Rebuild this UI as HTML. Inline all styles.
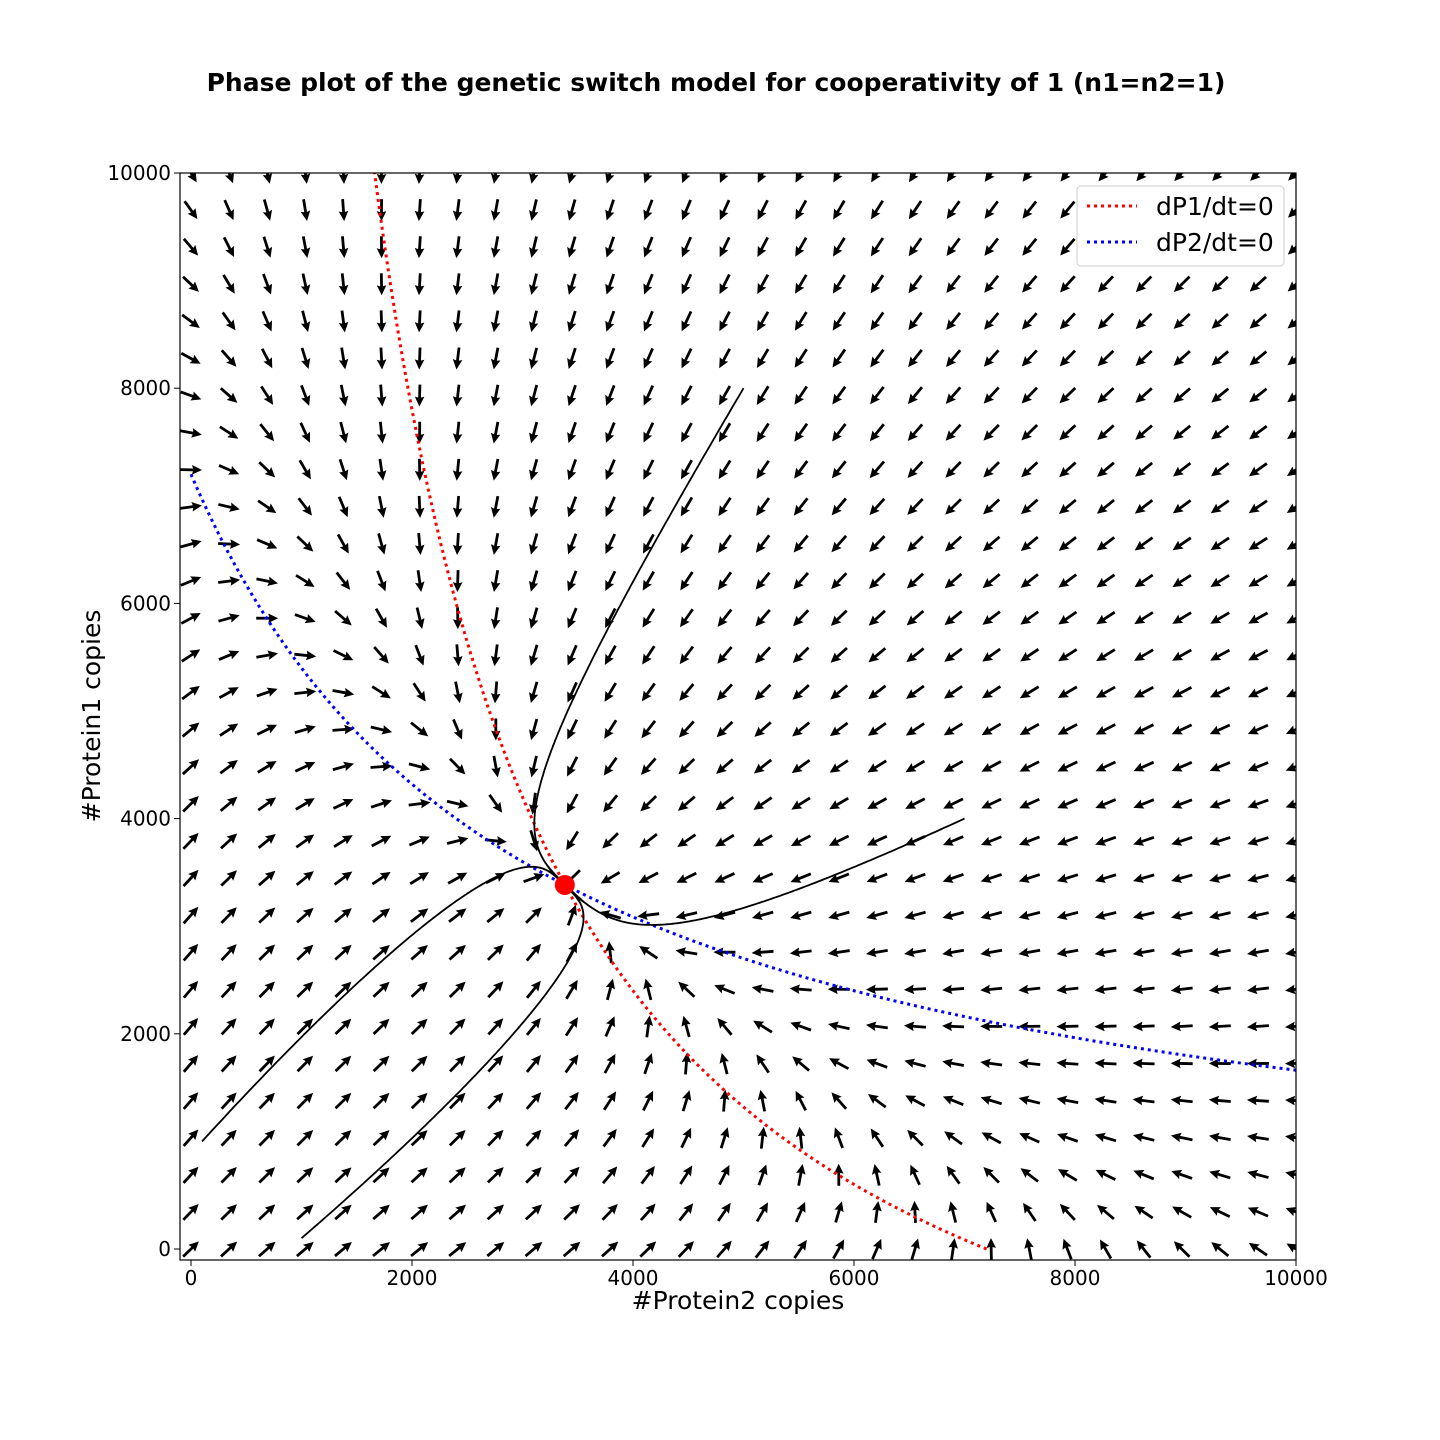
<!DOCTYPE html>
<html><head><meta charset="utf-8"><style>
body{margin:0;background:#fff}
svg{display:block;font-family:"DejaVu Sans","Liberation Sans",sans-serif}
</style></head><body>
<svg id="chart" width="1440" height="1440" viewBox="0 0 1440 1440">
<text x="716" y="91" text-anchor="middle" font-size="25" font-weight="bold">Phase plot of the genetic switch model for cooperativity of 1 (n1=n2=1)</text>
<defs><clipPath id="clip"><rect x="180" y="173" width="1116" height="1087"/></clipPath></defs>
<g id="arrows" clip-path="url(#clip)"></g>
<g id="lines" clip-path="url(#clip)"></g>
<rect x="180" y="173" width="1116" height="1087" fill="none" stroke="#000" stroke-width="1.2"/>
<g id="ticks"></g>
<text x="738" y="1309" text-anchor="middle" font-size="25">#Protein2 copies</text>
<text transform="translate(100,716) rotate(-90)" text-anchor="middle" font-size="25">#Protein1 copies</text>
<g>
<rect x="1077" y="186" width="207" height="80" rx="4" fill="#fff" stroke="#ccc" stroke-width="1"/>
<line x1="1087" y1="206" x2="1137" y2="206" stroke="red" stroke-width="3" stroke-dasharray="3,4"/>
<text x="1156" y="215" font-size="25">dP1/dt=0</text>
<line x1="1087" y1="242" x2="1137" y2="242" stroke="blue" stroke-width="3" stroke-dasharray="3,4"/>
<text x="1156" y="251" font-size="25">dP2/dt=0</text>
</g>
</svg>
<script>
const alpha = 7200;
const K = 3000;
const xTicks = [0,2000,4000,6000,8000,10000];
const yTicks = [0,2000,4000,6000,8000,10000];
const trajStarts = [[5000,8000],[7000,4000],[100,1000],[1000,100]];
const fixedPoint = [3383,3383];
const gridN = 30;

const NS="http://www.w3.org/2000/svg";
const sx = v => 191 + v*0.1105;
const sy = v => 1249 - v*0.1076;
function mk(tag, attrs, parent){const e=document.createElementNS(NS,tag);for(const k in attrs)e.setAttribute(k,attrs[k]);parent.appendChild(e);return e;}
const f1=(p1,p2)=>alpha/(1+p2/K)-p1; // dP1/dt
const f2=(p1,p2)=>alpha/(1+p1/K)-p2; // dP2/dt

const ag=document.getElementById('arrows');
for(let i=0;i<gridN;i++)for(let j=0;j<gridN;j++){
  const p2=i*10000/(gridN-1), p1=j*10000/(gridN-1);
  let u=f2(p1,p2), v=f1(p1,p2);
  const ang=Math.atan2(-v*0.1076,u*0.1105)*180/Math.PI;
  const a=mk('polygon',{points:'-11,-1.4 2,-1.4 1,-4.8 11,0 1,4.8 2,1.4 -11,1.4',fill:'#000',transform:`translate(${sx(p2)},${sy(p1)}) rotate(${ang})`},ag);
  
  
}
const lg=document.getElementById('lines');
let r='',b='';
for(let k=0;k<=200;k++){const p1=k*50; r+=(k?'L':'M')+sx(alpha/(1+p1/K))+','+sy(p1);}
for(let k=0;k<=200;k++){const p2=k*50; b+=(k?'L':'M')+sx(p2)+','+sy(alpha/(1+p2/K));}
const rn=mk('path',{d:r,fill:'none',stroke:'red','stroke-width':3,'stroke-dasharray':'3,4'},lg);


const bn=mk('path',{d:b,fill:'none',stroke:'blue','stroke-width':3,'stroke-dasharray':'3,4'},lg);


trajStarts.forEach(s=>{
  let p2=s[0],p1=s[1],d='M'+sx(p2)+','+sy(p1);const h=0.01;
  for(let t=0;t<1500;t++){
    const k1a=f1(p1,p2),k1b=f2(p1,p2);
    const k2a=f1(p1+h/2*k1a,p2+h/2*k1b),k2b=f2(p1+h/2*k1a,p2+h/2*k1b);
    p1+=h*k2a;p2+=h*k2b;d+='L'+sx(p2).toFixed(1)+','+sy(p1).toFixed(1);
  }
  const tr=mk('path',{d:d,fill:'none',stroke:'#000','stroke-width':1.8},lg);
  
  
});
const fp=mk('circle',{cx:sx(fixedPoint[0]),cy:sy(fixedPoint[1]),r:10,fill:'red'},lg);


const tg=document.getElementById('ticks');
xTicks.forEach(v=>{
  const l=mk('line',{x1:sx(v),x2:sx(v),y1:1260,y2:1266,stroke:'#000'},tg);
  
  
  const t=mk('text',{x:sx(v),y:1285,'text-anchor':'middle','font-size':20},tg);t.textContent=v;
  
  
});
yTicks.forEach(v=>{
  const l=mk('line',{x1:174,x2:180,y1:sy(v),y2:sy(v),stroke:'#000'},tg);
  
  
  const t=mk('text',{x:171,y:sy(v)+7,'text-anchor':'end','font-size':20},tg);t.textContent=v;
  
  
});
</script>
</body></html>
